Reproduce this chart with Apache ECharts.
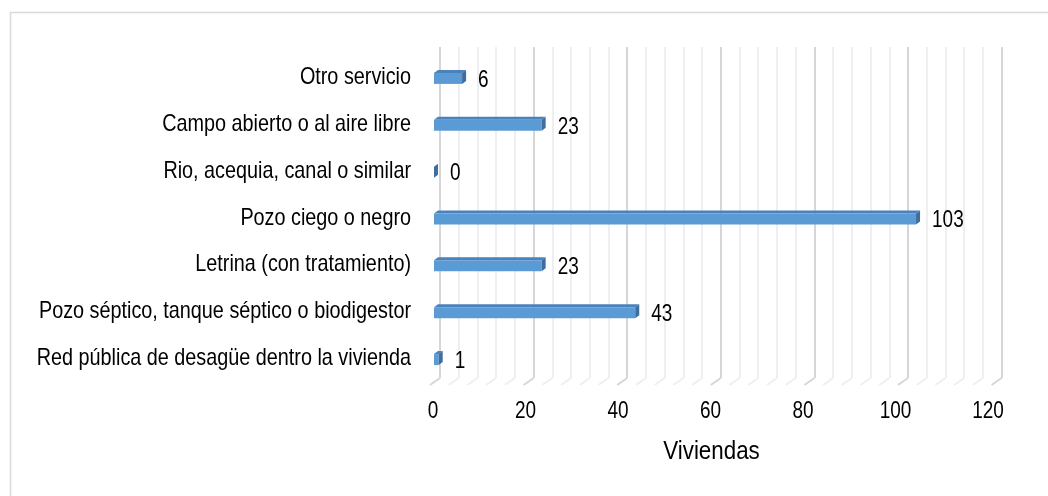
<!DOCTYPE html>
<html>
<head>
<meta charset="utf-8">
<script src="https://cdn.jsdelivr.net/npm/echarts@6/dist/echarts.min.js"></script>
<style>
html,body{margin:0;padding:0;background:#fff;}
#chart{width:1048px;height:496px;}
</style>
</head>
<body>
<div id="chart"></div>
<script>
// Categories, top to bottom as drawn
const categories = [
  'Otro servicio',
  'Campo abierto o al aire libre',
  'Rio, acequia, canal o similar',
  'Pozo ciego o negro',
  'Letrina (con tratamiento)',
  'Pozo séptico, tanque séptico o biodigestor',
  'Red pública de desagüe dentro la vivienda'
];
const values = [6, 23, 0, 103, 23, 43, 1];
const xTicks = [0, 20, 40, 60, 80, 100, 120];
const axisName = 'Viviendas';

const FONT = '"Liberation Sans", Arial, sans-serif';
const SX = 0.825; // condensed look of the original font
const wallTicks = [];
for (let t = 0; t <= 120; t += 4) wallTicks.push(t);

const majorC = '#d6d6d6', minorC = '#efefef';

const chart = echarts.init(document.getElementById('chart'), null, {renderer: 'canvas'});
chart.setOption({
  animation: false,
  backgroundColor: '#fff',
  graphic: [{
    type: 'rect', shape: {x: 10.5, y: 12.5, width: 1200, height: 700},
    style: {fill: 'none', stroke: '#d9d9d9', lineWidth: 1.5}, silent: true, z: 0
  }],
  grid: [
    {left: 440, top: 47, width: 561.6, height: 331},
    {left: 434, top: 54, width: 561.6, height: 328},
    {left: 433, top: 54, width: 555, height: 328}
  ],
  xAxis: [
    {gridIndex: 0, type: 'value', min: 0, max: 120, interval: 4,
     axisLine: {show: false}, axisTick: {show: false}, axisLabel: {show: false},
     splitLine: {show: true, lineStyle: {width: 2, color: [majorC, minorC, minorC, minorC, minorC]}}},
    {gridIndex: 1, type: 'value', min: 0, max: 120, show: false, splitLine: {show: false}},
    {gridIndex: 2, type: 'value', min: 0, max: 120, interval: 20,
     axisLine: {show: false}, axisTick: {show: false}, splitLine: {show: false},
     axisLabel: {show: false}}
  ],
  yAxis: [
    {gridIndex: 0, type: 'value', min: 0, max: 1, show: false, splitLine: {show: false}},
    {gridIndex: 1, type: 'category', data: categories, inverse: true, show: false},
    {gridIndex: 2, type: 'category', data: categories, inverse: true,
     axisLine: {show: false}, axisTick: {show: false}, splitLine: {show: false},
     axisLabel: {show: false}}
  ],
  series: [
    // floor diagonals of the 3D wall
    {
      type: 'custom', xAxisIndex: 0, yAxisIndex: 0, silent: true, z: 1,
      data: wallTicks.map(t => [t, 0]),
      renderItem: function (params, api) {
        const p = api.coord([api.value(0), 0]);
        const major = api.value(0) % 20 === 0;
        return {
          type: 'line',
          shape: {x1: p[0], y1: p[1], x2: p[0] - 10, y2: p[1] + 7},
          style: {stroke: major ? majorC : minorC, lineWidth: 2}
        };
      }
    },
    // category labels
    {
      type: 'custom', xAxisIndex: 2, yAxisIndex: 2, silent: true, z: 5,
      data: categories.map((c, i) => [0, i]),
      renderItem: function (params, api) {
        const p = api.coord([0, api.value(1)]);
        return {
          type: 'text', x: p[0] - 22, y: p[1], scaleX: SX,
          style: {text: categories[params.dataIndex], fill: '#000', font: '24px ' + FONT,
                  align: 'right', verticalAlign: 'middle'}
        };
      }
    },
    // x tick labels and axis name
    {
      type: 'custom', xAxisIndex: 2, yAxisIndex: 2, silent: true, z: 5,
      data: xTicks.map(v => [v, 0]),
      renderItem: function (params, api) {
        const p = api.coord([api.value(0), 0]);
        const cs = params.coordSys;
        const children = [{
          type: 'text', x: p[0], y: cs.y + cs.height + 30, scaleX: SX,
          style: {text: String(api.value(0)), fill: '#000', font: '23px ' + FONT,
                  align: 'center', verticalAlign: 'middle'}
        }];
        if (params.dataIndex === 0) {
          children.push({
            type: 'text', x: cs.x + cs.width / 2 + 1, y: cs.y + cs.height + 70, scaleX: 0.86,
            style: {text: axisName, fill: '#000', font: '26px ' + FONT,
                    align: 'center', verticalAlign: 'middle'}
          });
        }
        return {type: 'group', children: children};
      }
    },
    // 3D bars with value labels
    {
      type: 'custom', xAxisIndex: 1, yAxisIndex: 1, silent: true, z: 5,
      encode: {x: 0, y: 1},
      data: values.map((v, i) => [v, i]),
      renderItem: function (params, api) {
        const p0 = api.coord([0, api.value(1)]);
        const p = api.coord([api.value(0), api.value(1)]);
        const h = 11, dx = 4, dy = 3;
        const y = p[1] - h / 2 + 1;
        const x0 = p0[0], x1 = p[0];
        return {
          type: 'group',
          children: [
            {type: 'polygon', shape: {points: [[x0, y], [x0 + dx, y - dy], [x1 + dx, y - dy], [x1, y]]},
             style: {fill: '#4a82bb'}},
            {type: 'rect', shape: {x: x0, y: y, width: x1 - x0, height: h},
             style: {fill: '#5b9bd5'}},
            {type: 'polygon', shape: {points: [[x1, y], [x1 + dx, y - dy], [x1 + dx, y + h - dy], [x1, y + h]]},
             style: {fill: '#3e6e9e'}},
            {type: 'text', x: x1 + dx + 12, y: y + h / 2 + 2, scaleX: SX,
             style: {text: String(api.value(0)), fill: '#000', font: '23px ' + FONT,
                     align: 'left', verticalAlign: 'middle'}}
          ]
        };
      }
    }
  ]
});
</script>
</body>
</html>
